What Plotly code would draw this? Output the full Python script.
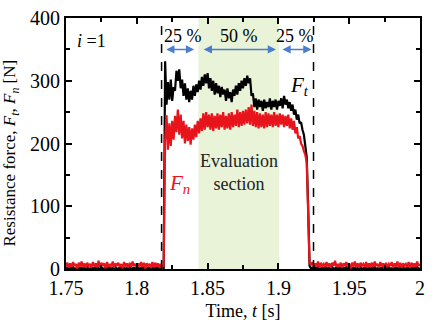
import numpy as np
import plotly.graph_objects as go

# ---------------- data ----------------
t_start, t_step = 1.750, 0.001

# pre-load baseline (1.750 .. 1.819)
fn_pre = [4,10,2,9,3,11,5,8,1,10, 4,12,3,9,2,10,5,8,2,11, 4,9,3,13,2,10,5,9,1,11,
          3,8,4,12,2,9,5,10,3,8, 1,11,4,9,2,10,3,12,5,8, 2,9,4,11,3,10,1,9,5,8,
          2,11,3,10,4,9,2,8,3,6]
ft_pre = [1,2,0,2,1,3,0,1,2,1]*7

# loaded section (1.820 .. 1.922)
ft_load = [331,262,298,270,302,268,290,284,316,300,
           318,288,302,276,296,270,288,266,284,270,
           292,276,294,282,300,286,306,292,310,296,
           312,288,304,284,300,278,296,280,292,274,
           290,278,286,268,288,272,282,266,286,276,
           292,278,296,284,300,288,304,292,308,296,
           304,276,280,258,272,254,270,258,268,252,
           270,256,266,258,272,254,268,258,270,254,
           268,260,272,256,276,262,270,256,266,252,
           262,246,254,238,246,232,234,222,214,196,
           178,100,5]
fn_load = [205,245,190,232,196,236,206,244,218,254,
           214,246,208,236,200,230,204,226,198,224,
           206,230,210,236,216,240,220,248,222,250,
           226,246,222,248,220,244,224,248,222,246,
           226,250,222,244,224,248,222,250,226,246,
           228,254,226,250,228,252,230,254,232,258,
           230,262,228,252,226,250,224,248,226,246,
           224,250,226,248,228,246,226,250,228,246,
           226,248,230,246,226,244,228,246,224,240,
           222,236,216,226,208,212,200,196,188,182,
           170,100,10]

# post-load baseline (1.923 .. 2.000)
fn_post = [6,11,3,9,4,12,2,10,5,8, 3,11,4,9,2,10,5,13,3,8, 4,10,2,9,5,11,3,8,1,10,
           4,12,3,9,2,10,5,8,3,11, 2,9,4,10,3,12,5,8,2,11, 4,9,1,10,3,8,5,11,2,9,
           4,12,3,10,2,9,5,8,3,11, 2,10,4,9,3,12,5,8]
ft_post = [1,2,0,2,1,3,0,1,2,1]*7 + [1,2,0,2,1,3,0,1]

ft = ft_pre + ft_load + ft_post
fn = fn_pre + fn_load + fn_post
t = np.round(t_start + t_step*np.arange(len(fn)), 4)

sec_start, sec_end = 1.8175, 1.9248     # dashed lines
eval_start, eval_end = 1.8435, 1.9005   # evaluation section

x_ticks = [1.75, 1.8, 1.85, 1.9, 1.95, 2.0]
x_ticklabels = ["1.75", "1.8", "1.85", "1.9", "1.95", "2"]
y_ticks = [0, 100, 200, 300, 400]

FONT = "Liberation Serif"
BLUE = "#4a7dcc"
RED = "#e8141c"

fig = go.Figure()
fig.add_trace(go.Scatter(x=t, y=ft, mode="lines", line=dict(color="black", width=2.2),
                         showlegend=False, hoverinfo="skip"))
fig.add_trace(go.Scatter(x=t, y=fn, mode="lines", line=dict(color=RED, width=2.2),
                         showlegend=False, hoverinfo="skip"))

fig.add_shape(type="rect", x0=eval_start, x1=eval_end, y0=0, y1=400, xref="x", yref="y",
              fillcolor="#e8f3d8", line_width=0, layer="below")
for xv in (sec_start, sec_end):
    fig.add_shape(type="line", x0=xv, x1=xv, y0=0, y1=400, xref="x", yref="y",
                  line=dict(color="black", width=1.5, dash="dash"), layer="above")

ann = []
for a, b in [(1.8197, 1.8405), (1.8462, 1.8983), (1.9018, 1.9234)]:
    ann.append(dict(x=b, y=350, ax=a, ay=350, xref="x", yref="y", axref="x", ayref="y",
                    text="", showarrow=True, arrowhead=2, arrowside="end+start",
                    arrowsize=1.1, arrowwidth=1.5, arrowcolor=BLUE))
for xv, txt in [(1.8325, "25 %"), (1.8719, "50 %"), (1.9116, "25 %")]:
    ann.append(dict(x=xv, y=372, xref="x", yref="y", text=txt, showarrow=False,
                    font=dict(family=FONT, size=18, color="black")))
ann.append(dict(x=1.7681, y=363, xref="x", yref="y", text="<i>i</i> =1", showarrow=False,
                font=dict(family=FONT, size=18, color="black")))
ann.append(dict(x=1.9152, y=291, xref="x", yref="y", text="<i>F<sub>t</sub></i>", showarrow=False,
                font=dict(family=FONT, size=21, color="black")))
ann.append(dict(x=1.8300, y=135, xref="x", yref="y", text="<i>F<sub>n</sub></i>", showarrow=False,
                font=dict(family=FONT, size=21, color=RED)))
ann.append(dict(x=1.8719, y=154, xref="x", yref="y", text="Evaluation<br>section", showarrow=False,
                font=dict(family=FONT, size=18, color="#222"), align="center"))
# y-axis title
ann.append(dict(x=-0.156, y=0.463, xref="paper", yref="paper", textangle=-90,
                text="Resistance force, <i>F<sub>t</sub></i>, <i>F<sub>n</sub></i> [N]",
                showarrow=False, xanchor="center", yanchor="middle",
                font=dict(family=FONT, size=17, color="black")))

axis_common = dict(showline=True, linewidth=2, linecolor="black", mirror="allticks",
                   ticks="inside", ticklen=6, tickwidth=1.5, tickcolor="black",
                   showgrid=False, zeroline=False,
                   tickfont=dict(family=FONT, size=20, color="black"))

fig.update_layout(
    width=432, height=325,
    margin=dict(l=66, r=7, t=13, b=55),
    paper_bgcolor="white", plot_bgcolor="white",
    annotations=ann,
    xaxis=dict(range=[1.75, 2.0], tickvals=x_ticks, ticktext=x_ticklabels,
               minor=dict(ticks="inside", ticklen=4, tickwidth=1.5, tickcolor="black", dtick=0.025, tick0=1.75),
               title=dict(text="Time, <i>t</i> [s]", font=dict(family=FONT, size=18, color="black"), standoff=6),
               **axis_common),
    yaxis=dict(range=[0, 400], tickvals=y_ticks,
               minor=dict(ticks="inside", ticklen=4, tickwidth=1.5, tickcolor="black", dtick=50, tick0=0),
               **axis_common),
)
fig.write_html("out.html")
